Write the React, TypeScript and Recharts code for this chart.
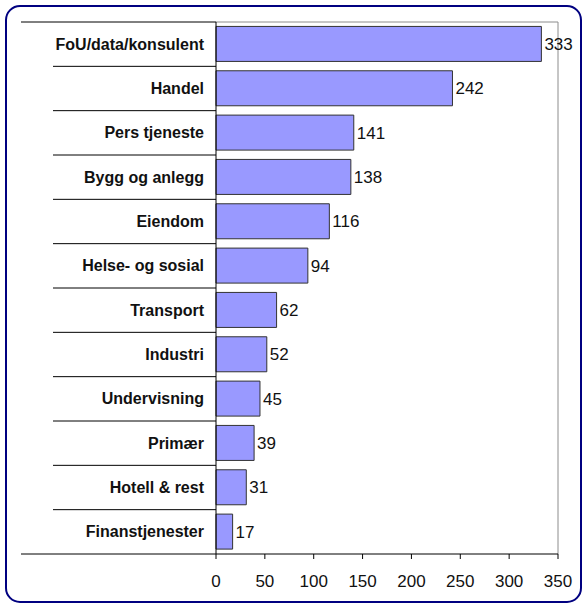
import React from "react";
import {
  BarChart,
  Bar,
  XAxis,
  YAxis,
  CartesianGrid,
  LabelList,
} from "recharts";

const categories = [
  "FoU/data/konsulent",
  "Handel",
  "Pers tjeneste",
  "Bygg og anlegg",
  "Eiendom",
  "Helse- og sosial",
  "Transport",
  "Industri",
  "Undervisning",
  "Primær",
  "Hotell & rest",
  "Finanstjenester",
];
const values = [333, 242, 141, 138, 116, 94, 62, 52, 45, 39, 31, 17];
const xTicks = [0, 50, 100, 150, 200, 250, 300, 350];

const data = categories.map((name, i) => ({ name, value: values[i] }));

const FONT = "'Liberation Sans', Arial, Helvetica, sans-serif";
const TICK_MARGIN = 12;

const CatTick = (props: any) => {
  const { x, y, payload, index, visibleTicksCount, height } = props;
  const plotH = typeof height === "number" && height > 0 ? height : 532;
  const band = plotH / visibleTicksCount;
  const axisRight = x + TICK_MARGIN;
  const top = y - band / 2;
  const bottom = y + band / 2;
  const longLeft = axisRight - 195;
  const shortLeft = axisRight - 163;
  return (
    <g>
      <line
        x1={index === 0 ? longLeft : shortLeft}
        x2={axisRight}
        y1={top}
        y2={top}
        stroke="#000"
        strokeWidth={1}
      />
      {index === visibleTicksCount - 1 && (
        <line x1={longLeft} x2={axisRight} y1={bottom} y2={bottom} stroke="#000" strokeWidth={1} />
      )}
      <text
        x={x}
        y={y}
        textAnchor="end"
        dominantBaseline="central"
        fontFamily={FONT}
        fontWeight="bold"
        fontSize={16}
        fill="#111"
      >
        {payload.value}
      </text>
    </g>
  );
};

export default function App() {
  return (
    <div
      style={{
        position: "absolute",
        left: 0,
        top: 0,
        width: 583,
        height: 604,
        background: "#fff",
        overflow: "hidden",
      }}
    >
      <div
        style={{
          position: "absolute",
          left: 5,
          top: 5,
          width: 577,
          height: 598,
          boxSizing: "border-box",
          border: "2.5px solid #000080",
          borderRadius: 15,
        }}
      />
      <div style={{ position: "absolute", left: 0, top: 0 }}>
        <BarChart
          width={583}
          height={604}
          data={data}
          layout="vertical"
          margin={{ top: 22, right: 25, bottom: 0, left: 0 }}
          barCategoryGap="10%"
        >
          <CartesianGrid
            stroke="#8c8c8c"
            horizontalCoordinatesGenerator={({ offset }: any) => [offset.top]}
            verticalCoordinatesGenerator={({ offset }: any) => [offset.left + offset.width]}
          />
          <XAxis
            type="number"
            domain={[0, 350]}
            ticks={xTicks}
            interval={0}
            height={50}
            axisLine={{ stroke: "#000" }}
            tickLine={{ stroke: "#000" }}
            tickSize={5}
            tickMargin={16}
            tick={{ fill: "#111", fontSize: 17, fontFamily: FONT }}
          />
          <YAxis
            type="category"
            dataKey="name"
            width={216}
            interval={0}
            axisLine={{ stroke: "#000" }}
            tickLine={false}
            tickSize={0}
            tickMargin={TICK_MARGIN}
            tick={<CatTick />}
          />
          <Bar
            dataKey="value"
            fill="#9999FF"
            stroke="#333333"
            strokeWidth={1}
            isAnimationActive={false}
          >
            <LabelList
              dataKey="value"
              position="right"
              offset={3}
              fill="#111"
              fontSize={17}
              fontFamily={FONT}
            />
          </Bar>
        </BarChart>
      </div>
    </div>
  );
}
